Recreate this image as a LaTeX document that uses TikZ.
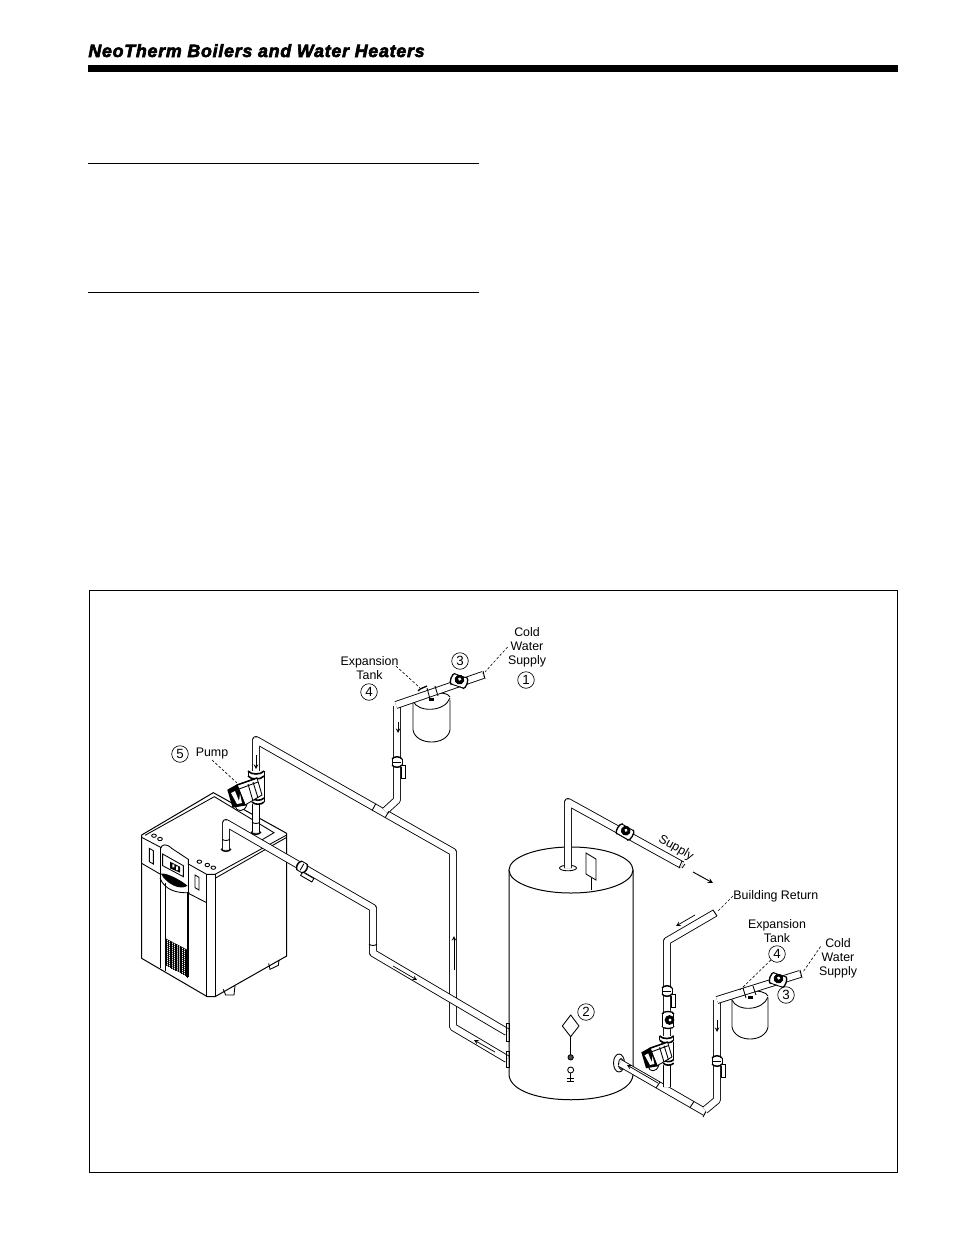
\documentclass[tikz,border=0pt]{standalone}
\usepackage{fontspec}
\setmainfont{Liberation Sans}
\newfontfamily\headfont[BoldItalicFeatures={FakeBold=3.4,LetterSpace=4.5}]{Liberation Sans}
\usetikzlibrary{calc}

% valve with lever, pipe runs along local y, #3 = side of the lever
\newcommand{\ballvalve}[3]{%
  \begin{scope}[shift={#1},rotate=#2,xscale=#3]
    \draw[fill=white] (4,3) rectangle (8,16);
    \fill[white] (-5,-5) rectangle (5,5);
    \draw[line width=1.1pt] (-5,-3) .. controls (-3,-6) and (3,-6) .. (5,-3);
    \draw[line width=1.1pt] (-5,3) .. controls (-3,6) and (3,6) .. (5,3);
    \draw (-5,-3) -- (-5,3) (5,-3) -- (5,3);
    \draw (-3.7,0) -- (3.7,0);
  \end{scope}}
% threaded valve, pipe runs along local x
\newcommand{\gatevalve}[2]{%
  \begin{scope}[shift={#1},rotate=#2]
    \draw[fill=white,line width=1pt] (-6.5,0) ellipse (2 and 5.5) (6.5,0) ellipse (2 and 5.5);
    \fill[white] (-6.5,-5) rectangle (6.5,4.7);
    \draw (-6.5,-5.4) -- (6.5,-5.4) (-6.5,5.4) -- (6.5,5.4);
    \draw[fill=black] (0,-1.5) circle (4.4);
    \draw[fill=white,draw=none] (0,-2) circle (1.7);
  \end{scope}}
\newcommand{\pumpbody}[2]{%
  \begin{scope}[shift={#1},scale=#2]
    \draw[fill=white] (12,-20) rectangle (19,6);
    \fill[white] (3,-24) rectangle (19,-17);
    \draw (3,-24) -- (3,-19) (19,-24) -- (19,-19);
    \draw[line width=1.2pt] (3,-24) .. controls (6,-20) and (16,-20) .. (19,-24);
    \draw[line width=1.2pt] (3,-19) .. controls (6,-15) and (16,-15) .. (19,-19);
    \fill[white] (7,3) rectangle (19,9);
    \draw[line width=1.2pt] (7,3) .. controls (10,6) and (16,6) .. (19,3);
    \draw[line width=1.2pt] (7,7) .. controls (10,10) and (16,10) .. (19,7);
    \draw[fill=white] (-10,11) .. controls (-9,17) and (0,18) .. (2,9);
    \draw[fill=white] (-8,-10) -- (12,-17) -- (17,0) -- (0,10) -- cycle;
    \draw[line width=1.1pt] (-8,-10) -- (12,-17);
    \draw (-6,-6) -- (13,-13) (3,-11) -- (8,6) (8,-13) -- (13,3);
    \draw[fill=black,line width=.9pt] (-17,-5) -- (-8,-10) -- (0,10) -- (-12,12) -- cycle;
    \fill[white] (-14,-2) -- (-10,-4) -- (-6,6) -- (-5,-1) -- (-3,8) -- (-8,9) -- cycle;
  \end{scope}}

\begin{document}
\begin{tikzpicture}[x=.75pt,y=-.75pt,line width=.65pt,
    pipe/.style    = {draw=black,double=white,double distance=4.6pt,line width=.65pt,line join=round},
    rule/.style    = {line width=.75pt},
    leader/.style  = {dash pattern=on 2pt off 1.4pt,line width=.45pt},
    numcirc/.style = {draw,circle,minimum size=12.4pt,inner sep=0pt,line width=.5pt,font=\fontsize{10}{11}\selectfont},
    lbl/.style     = {align=center,inner sep=0pt,font=\fontsize{9.3}{10.6}\selectfont},
    flowtip/.style = {-stealth,line width=.55pt},
  ]
  \useasboundingbox (0,0) rectangle (954,1235);

  % page header
  \node[anchor=base west,inner sep=0pt,font=\headfont\bfseries\itshape\fontsize{13.3}{15}\selectfont] (headline) at (88,57) {NeoTherm Boilers and Water Heaters};
  \fill (88,65) rectangle (898,72);
  \draw[rule] (88,163) -- (479,163);
  \draw[rule] (88,292) -- (479,292);
  \draw[rule] (89,590) rectangle (897,1172);

  % boiler
  \begin{scope}[shift={(130,720)},x=.25pt,y=-.25pt]
    \draw[fill=white,line width=.75pt,line join=round] (35,345) -- (250,218) -- (470,340) -- (470,708) -- (255,830) -- (232,830) -- (35,715) -- cycle;
    \draw (45,346) -- (253,230) -- (432,338) -- (395,360);
    \draw (35,352) -- (92,382) (175,432) -- (230,463) -- (255,463) -- (470,345);
    \draw (255,475) -- (470,352);
    \draw (230,463) -- (230,830) (255,463) -- (255,830);
    \draw (35,430) -- (90,462) (175,520) -- (230,548);
    \draw (58,385) -- (70,392) -- (70,432) -- (58,425) -- cycle;
    \draw (195,465) -- (207,472) -- (207,510) -- (195,503) -- cycle;
    \draw (90,380) -- (90,745) (105,490) -- (105,752) (172,515) -- (172,775) (175,435) -- (175,770);
    \draw (92,385) .. controls (95,372) and (110,370) .. (125,385) -- (175,418) -- (175,435);
    \draw (98,402) -- (160,437) -- (160,470) -- (98,437) -- cycle;
    \fill (120,425) -- (150,440) -- (150,458) -- (120,445) -- cycle;
    \fill[white] (127,433) rectangle (133,442) (138,439) rectangle (144,450);
    \draw[fill=black] (95,462) .. controls (110,460) and (150,480) .. (170,497) .. controls (150,510) and (110,490) .. (95,462) -- cycle;
    \draw (90,475) .. controls (105,510) and (140,520) .. (178,518);
    \foreach \hx in {105,110,...,172}
      \draw[line width=.35pt] (\hx,{655+(\hx-105)*.52}) -- (\hx,{735+(\hx-105)*.55});
    \foreach \hy in {0,6,...,78}
      \draw[line width=.35pt] (105,655+\hy) -- (172,690+\hy);
    \foreach \bx/\by in {72/347,90/357,208/425,232/435,250/443}
      \draw (\bx,\by) ellipse (7 and 5);
    \draw (280,808) -- (287,825) -- (312,825) -- (315,797);
    \draw (416,730) -- (420,748) -- (445,736) -- (447,720);
  \end{scope}

  % piping from boiler to heater
  \draw[pipe] (256,832) -- (256,740) -- (453,852) -- (453,1027) -- (507,1059);
  \draw[pipe] (397,706) -- (397,800) -- (385,811);
  \draw (375.8,803.8) -- (372.2,810.2) (388.8,811.3) -- (385.2,817.7);
  \draw[pipe] (226,849) -- (226,823) -- (373,908) -- (373,953) -- (507,1032);
  \draw[line width=1.1pt] (221,849) .. controls (223,852) and (229,852) .. (231,849);
  \draw (222,839) .. controls (224,841) and (228,841) .. (230,839);
  \draw (369,944) .. controls (371,946) and (375,946) .. (377,944);
  \draw (506,1023) rectangle (509,1041) (506,1051) rectangle (509,1067);

  % expansion tank, upper
  \draw[fill=white] (413,700) -- (413,730) .. controls (416,746) and (447,746) .. (450,730) -- (450,700);
  \draw[fill=white] (413,700) .. controls (415,692) and (448,690) .. (450,697);
  \draw (413,701) .. controls (418,713) and (445,712) .. (450,698);
  \draw[pipe] (396,705) -- (483,675);
  \draw (483,671) -- (485,679);
  \draw (427,688) -- (430,699) (435,686) -- (438,696);
  \fill (429,698) rectangle (434,701);
  \draw[line width=1pt] (418,691) .. controls (420,688) and (424,688) .. (427,686);
  \gatevalve{(459,681)}{-19}
  \ballvalve{(397,762)}{0}{1}

  % pump on boiler
  \pumpbody{(245,795)}{1}
  \draw[pipe] (256,805) -- (256,832);
  \draw[line width=1.1pt] (251,832) .. controls (253,835) and (259,835) .. (261,832);
  \draw (252,822) .. controls (254,824) and (258,824) .. (260,822);
  \draw[flowtip] (256,755) -- (256,769);
  \ballvalve{(302,867)}{60}{-1}

  % water heater
  \draw[fill=white,line width=.75pt] (509,870) -- (509,1075) .. controls (512,1108) and (630,1108) .. (633,1075) -- (633,870);
  \draw[fill=white,line width=.75pt] (571,870) ellipse (62 and 23);
  \draw (506,1023) rectangle (509,1041) (506,1051) rectangle (509,1067);
  \draw (568,868) ellipse (8.5 and 2.8);
  \draw[pipe] (568,868) -- (568,802) -- (682,865);
  \draw (586,853) -- (596,859) -- (596,880) -- (586,874) -- cycle;
  \draw (591,878) -- (591,890);
  \gatevalve{(625,832)}{-30}
  \draw (679,868) -- (682,861) (682,868) -- (685,864);
  \draw[-stealth,line width=.7pt] (693,872) -- (713,883);
  \node[lbl,rotate=-30] (lblSupply) at (676,848) {Supply};

  % heater controls
  \begin{scope}[shift={(360,890)},x=.25pt,y=-.25pt]
    \draw (632,375) -- (657,408) -- (632,440) -- (607,408) -- cycle;
    \draw (632,440) -- (632,495);
    \draw[fill=black!70] (632,502) circle (8);
    \draw (632,540) circle (9);
    \draw (632,549) -- (632,577) (622,565) -- (642,565) (622,573) -- (642,573);
  \end{scope}

  % return piping at heater
  \draw[fill=white] (619,1063) ellipse (5.5 and 9);
  \draw (621,1064) ellipse (2.5 and 5.5);
  \draw[pipe] (620,1063) -- (705,1112);
  \draw (660,1082) -- (656,1088) (694,1101.5) -- (690,1107.5);
  \draw (703,1117) -- (708,1108);
  \draw[pipe] (667,1087) -- (667,941) -- (715,913);
  \draw (713,910) -- (717,916);
  \ballvalve{(667,991)}{0}{1}
  \gatevalve{(668,1020)}{-90}
  \pumpbody{(657,1057)}{.88}
  \draw[pipe] (667,1066) -- (667,1087);
  \draw[pipe] (717,1000) -- (717,1100) -- (705,1110);
  \ballvalve{(717,1061)}{0}{1}

  % expansion tank, lower
  \draw[fill=white] (732,998) -- (732,1027) .. controls (735,1043) and (765,1043) .. (768,1027) -- (768,998);
  \draw[fill=white] (732,998) .. controls (735,990) and (765,988) .. (768,996);
  \draw (732,1000) .. controls (737,1012) and (763,1011) .. (768,997);
  \draw[pipe] (717,1000) -- (800,974);
  \draw (800,970) -- (802,978);
  \draw (743,988) -- (746,998) (753,986) -- (756,995);
  \fill (748,996) rectangle (753,999);
  \gatevalve{(778,980)}{-19}

  % flow arrows
  \draw[flowtip] (398,722) -- (398,733);
  \draw[flowtip] (454,970) -- (454,936);
  \draw[flowtip] (393,966) -- (417,980);
  \draw[flowtip] (495,1052) -- (474,1040);
  \draw[flowtip] (658,1083) -- (627,1065);
  \draw[flowtip] (695,915) -- (676,926);
  \draw[flowtip] (717,1020) -- (717,1032);

  % labels
  \node[numcirc] (circFive) at (180,754) {5};
  \node[lbl] (lblPump) at (212,754) {Pump};
  \coordinate (tipPump) at (237,783);
  \draw[leader] (lblPump.south) -- (tipPump);

  \node[lbl] (lblTankA) at (369.5,668) {Expansion\\Tank};
  \node[numcirc] (circFourA) at (369,692) {4};
  \coordinate (tipTankA) at (420,688);
  \draw[leader] (lblTankA.north east) ++(-3,10) -- (tipTankA);
  \node[numcirc] (circThreeA) at (460,661) {3};
  \node[lbl] (lblColdA) at (527,647) {Cold\\Water\\Supply};
  \node[numcirc] (circOne) at (526,680) {1};
  \coordinate (tipColdA) at (485,672);
  \draw[leader] (lblColdA.west) -- (tipColdA);

  \node[numcirc] (circTwo) at (586,1012) {2};
  \node[lbl,anchor=west] (lblReturn) at (733,896) {Building Return};
  \coordinate (tipReturn) at (717,912);
  \draw[leader] (lblReturn.west) -- (tipReturn);

  \node[lbl] (lblTankB) at (777,931) {Expansion\\Tank};
  \node[numcirc] (circFourB) at (777,954) {4};
  \coordinate (tipTankB) at (740,990);
  \draw[leader] (circFourB) -- (tipTankB);
  \node[lbl] (lblColdB) at (838,958.5) {Cold\\Water\\Supply};
  \node[numcirc] (circThreeB) at (786,995) {3};
  \coordinate (tipColdB) at (803,972);
  \draw[leader] (lblColdB.west) ++(2,-12) -- (tipColdB);
\end{tikzpicture}
\end{document}
